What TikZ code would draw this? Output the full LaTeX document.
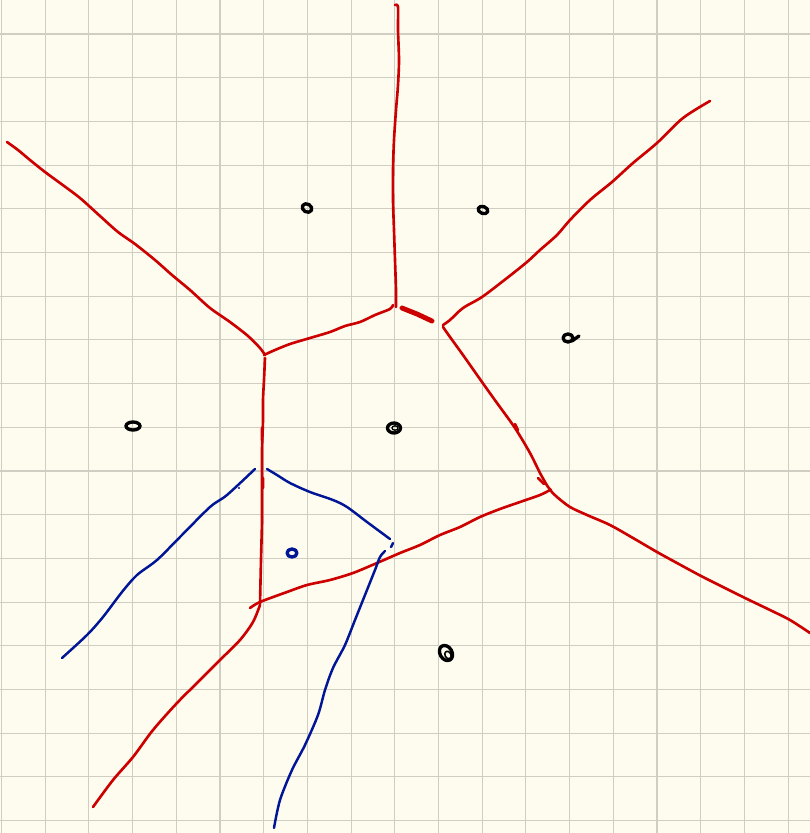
\documentclass[tikz,border=0pt]{standalone}
\usepackage{tikz}
\definecolor{paper}{RGB}{254,252,238}
\definecolor{gridc}{RGB}{208,206,194}
\definecolor{penred}{RGB}{204,0,0}
\definecolor{penblue}{RGB}{0,22,150}

\begin{document}
\begin{tikzpicture}[x=0.02cm,y=-0.02cm, line join=round, line cap=round,
    redline/.style={color=penred,line width=1.5pt},
    blueline/.style={color=penblue,line width=1.4pt},
    site/.style={line width=1.9pt}]
        \def\xmax{810} \def\ymax{833} \def\gap{43.7}
        \fill[paper] (0,0) rectangle (\xmax,\ymax);
        \useasboundingbox (0,0) rectangle (\xmax,\ymax);
        % squared paper
        \foreach \k in {0,...,18} {
          \draw[gridc,line width=0.6pt] (1.5+\k*\gap,0)--(1.5+\k*\gap,\ymax);
          \draw[gridc,line width=0.6pt] (0,34+\k*\gap)--(\xmax,34+\k*\gap);
        }
        % red cells
        \draw[redline,smooth] plot coordinates {(395,5) (398,7) (398,30) (399,60) (398,85) (396,110) (394,140) (393,170) (393,200) (394,230) (395,260) (396,290) (396,307)};
        \draw[redline,smooth] plot coordinates {(7,142) (18,150) (30,160) (45,172) (60,183) (80,198) (100,216) (118,232) (135,244) (155,260) (172,275) (190,290) (210,308) (230,322) (248,336) (260,348) (265,355)};
        \draw[redline,smooth] plot coordinates {(264,355) (275,350) (290,344) (310,338) (330,332) (345,326) (360,322) (375,315) (390,309) (393,305)};
        \draw[redline,line width=2.8pt] (402,308)--(417,314)--(432,321);
        \draw[redline,smooth] plot coordinates {(443,325) (450,320) (463,308) (482,297) (507,278) (527,262) (540,250) (557,235) (570,220) (590,200) (612,182) (633,163) (657,143) (683,118) (710,101)};
        \draw[redline,smooth] plot coordinates {(443,327) (450,337) (463,355) (482,382) (497,403) (515,428) (530,453) (540,473) (548,487) (551,490)};
        \draw[redline,smooth] plot coordinates {(550,490) (557,497) (570,507) (587,515) (610,525) (633,538) (657,552) (677,563) (703,577) (743,597) (770,610) (790,620) (810,633)};
        \draw[redline,smooth] plot coordinates {(250,608) (260,602) (287,592) (307,585) (330,580) (353,573) (377,563) (400,553) (420,545) (440,535) (460,527) (480,517) (500,509) (520,502) (540,495) (550,490)};
        \draw[redline,smooth] plot coordinates {(265,358) (264,380) (263,400) (263,420) (262,450) (262,480) (262,520) (261,560) (260,604)};
        \draw[redline,smooth] plot coordinates {(260,605) (253,622) (240,640) (220,660) (197,683) (177,703) (153,730) (133,757) (113,780) (93,807)};
        \draw[redline] (262,428)--(262,440) (263,478)--(263,488) (515,424)--(518,430) (538,478)--(544,484);
        % blue cell
        \draw[blueline,smooth] plot coordinates {(62,658) (87,635) (103,617) (122,592) (137,575) (157,560) (180,537) (210,507) (227,495) (255,469)};
        \fill[penblue] (239,488) circle (1.2);
        \draw[blueline,smooth] plot coordinates {(267,469) (277,475) (290,483) (310,492) (333,500) (347,507) (367,522) (390,539)};
        \draw[blueline] (393,543)--(391,547);
        \draw[blueline,smooth] plot coordinates {(385,551) (380,557) (375,570) (365,595) (355,620) (345,645) (333,668) (325,690) (318,715) (305,745) (292,770) (280,800) (274,828)};
        % sites
        \draw[site] (307,208) ellipse [x radius=5, y radius=4, rotate=-30];
        \draw[site] (483,210) ellipse [x radius=5, y radius=3.5, rotate=-20];
        \draw[site] (568,338) ellipse [x radius=5, y radius=4] (572,341)--(579,336);
        \draw[site] (133,426) ellipse [x radius=7, y radius=4];
        \draw[site] (394,428) ellipse [x radius=6.5, y radius=5];
        \draw[line width=0.8pt] (395,428) ellipse [x radius=3, y radius=2.2];
        \draw[site] (446,653) ellipse [x radius=6, y radius=8, rotate=30];
        \draw[line width=0.9pt] (448,655) ellipse [x radius=3, y radius=4, rotate=30];
        \draw[site,penblue] (292,553) ellipse [x radius=5, y radius=4];
\end{tikzpicture}
\end{document}
